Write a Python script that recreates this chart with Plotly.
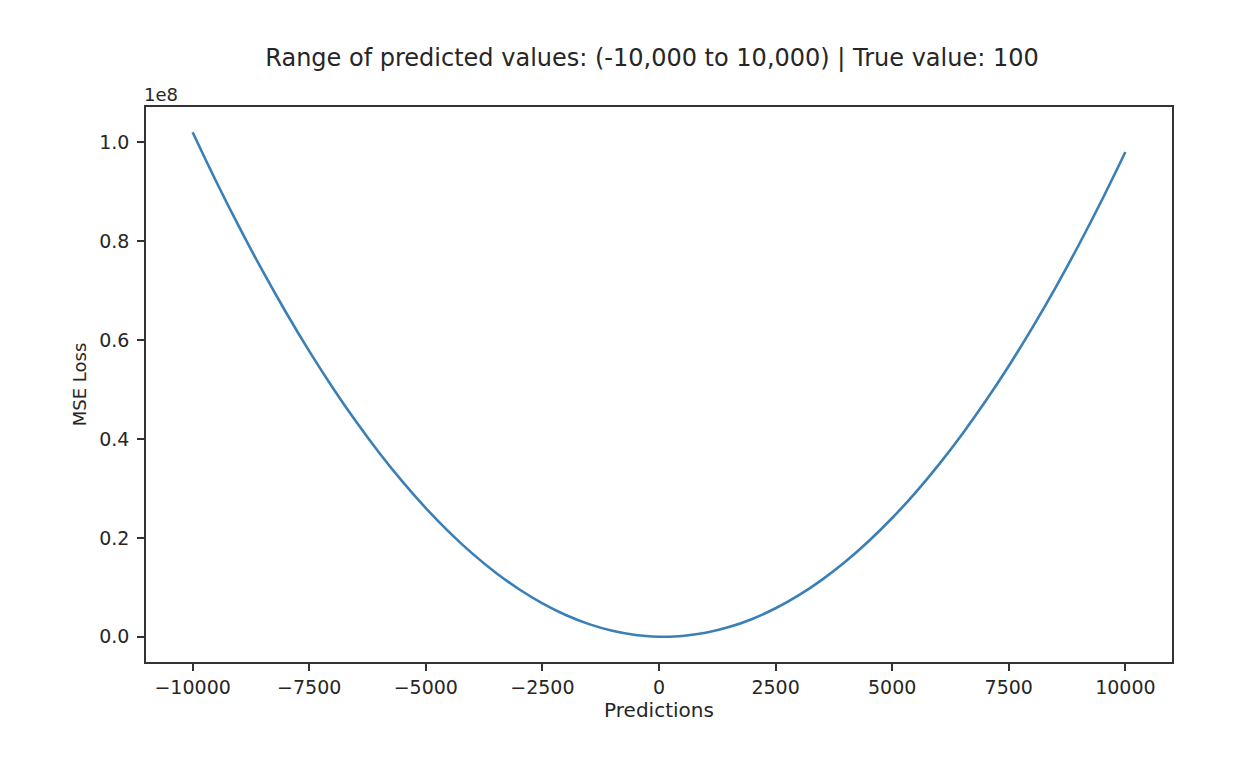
import plotly.graph_objects as go

# Predictions (x) and MSE loss (in units of 1e8)
predictions = [-10000, -9500, -9000, -8500, -8000, -7500, -7000, -6500, -6000, -5500,
               -5000, -4500, -4000, -3500, -3000, -2500, -2000, -1500, -1000, -500,
               0, 100, 500, 1000, 1500, 2000, 2500, 3000, 3500, 4000, 4500,
               5000, 5500, 6000, 6500, 7000, 7500, 8000, 8500, 9000, 9500, 10000]
mse_loss_1e8 = [1.0201, 0.9216, 0.8281, 0.7396, 0.6561, 0.5776, 0.5041, 0.4356, 0.3721, 0.3136,
                0.2601, 0.2116, 0.1681, 0.1296, 0.0961, 0.0676, 0.0441, 0.0256, 0.0121, 0.0036,
                0.0001, 0.0, 0.0016, 0.0081, 0.0196, 0.0361, 0.0576, 0.0841, 0.1156, 0.1521, 0.1936,
                0.2401, 0.2916, 0.3481, 0.4096, 0.4761, 0.5476, 0.6241, 0.7056, 0.7921, 0.8836, 0.9801]

x_ticks = [-10000, -7500, -5000, -2500, 0, 2500, 5000, 7500, 10000]
x_tick_labels = ["\u221210000", "\u22127500", "\u22125000", "\u22122500", "0", "2500", "5000", "7500", "10000"]
y_ticks = [0.0, 0.2, 0.4, 0.6, 0.8, 1.0]
y_tick_labels = ["0.0", "0.2", "0.4", "0.6", "0.8", "1.0"]

title_text = "Range of predicted values: (-10,000 to 10,000) | True value: 100"
font_family = "DejaVu Sans"
text_color = "#262626"
spine_color = "#333333"

fig = go.Figure()
fig.add_trace(go.Scatter(
    x=predictions, y=mse_loss_1e8, mode="lines",
    line=dict(color="#3a7fb5", width=2.6, shape="spline"),
    showlegend=False,
))

x_pad = (max(predictions) - min(predictions)) * 0.05
y_span = max(mse_loss_1e8) - min(mse_loss_1e8)

fig.update_layout(
    width=1236, height=764,
    margin=dict(l=146, r=64, t=107, b=102),
    paper_bgcolor="white", plot_bgcolor="white",
    font=dict(family=font_family, color=text_color, size=19),
    title=dict(text=title_text, x=652 / 1236, xref="container", xanchor="center",
               y=1 - 58 / 764, yanchor="middle",
               font=dict(size=24, family=font_family, color=text_color)),
    xaxis=dict(
        range=[min(predictions) - x_pad, max(predictions) + x_pad],
        tickmode="array", tickvals=x_ticks, ticktext=x_tick_labels,
        ticks="outside", ticklen=7, tickwidth=1.5, tickcolor=spine_color,
        showline=True, linecolor=spine_color, linewidth=1.6, mirror=True,
        showgrid=False, zeroline=False,
        title=dict(text="Predictions", font=dict(size=20), standoff=4),
        tickfont=dict(size=19),
    ),
    yaxis=dict(
        range=[min(mse_loss_1e8) - 0.05 * y_span, max(mse_loss_1e8) + 0.05 * y_span],
        tickmode="array", tickvals=y_ticks, ticktext=y_tick_labels,
        ticks="outside", ticklen=7, tickwidth=1.5, tickcolor=spine_color,
        showline=True, linecolor=spine_color, linewidth=1.6, mirror=True,
        showgrid=False, zeroline=False,
        title=dict(text="MSE Loss", font=dict(size=18), standoff=8),
        tickfont=dict(size=19),
        ticklabelstandoff=4,
    ),
    annotations=[dict(
        text="1e8", xref="paper", yref="paper", x=0, y=1,
        xanchor="left", yanchor="bottom", yshift=0, xshift=-4, showarrow=False,
        font=dict(size=18, family=font_family, color=text_color),
    )],
)

fig.write_html("out.html")
